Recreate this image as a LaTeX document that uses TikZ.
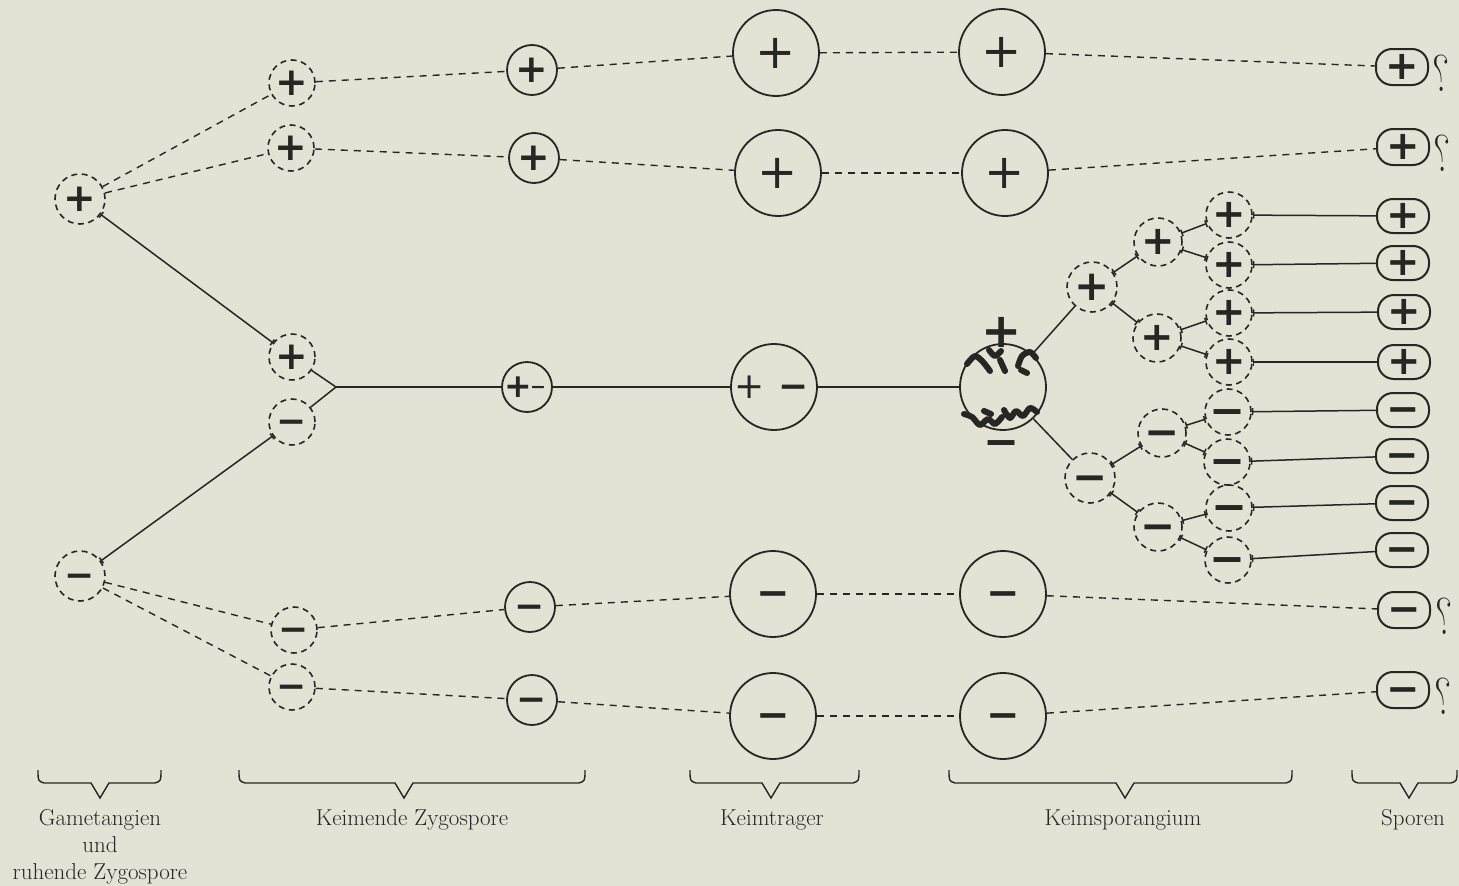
\documentclass[tikz,border=0pt]{standalone}
\usepackage{fontspec}
\usepackage{graphicx}
\usetikzlibrary{arrows.meta}
\newfontfamily\sgnfont{DejaVu Sans}
\definecolor{paper}{RGB}{228,225,213}
\definecolor{ink}{RGB}{38,38,36}
\newcommand\sgb[1]{\sgnfont\bfseries\fontsize{#1}{#1}\selectfont}
\newcommand\sgr[1]{\sgnfont\fontsize{#1}{#1}\selectfont}
\newcommand\psign{\raisebox{-0.36em}{+}}
\newcommand\msign{\raisebox{-0.32em}[0.1em][0.1em]{−}}
\newcommand\qmark{\scalebox{-0.75}[1]{?}}
\begin{document}
\begin{tikzpicture}[x=1pt,y=-1pt,
  every node/.style={text=ink},
  dc/.style={circle,draw=ink,line width=1.6pt,dash pattern=on 6pt off 4.5pt,minimum size=46pt,inner sep=0pt},
  sc/.style={circle,draw=ink,line width=1.8pt,minimum size=50pt,inner sep=0pt},
  bc/.style={circle,draw=ink,line width=1.8pt,minimum size=86pt,inner sep=0pt},
  ov/.style={rectangle,rounded corners=16pt,draw=ink,line width=2pt,minimum width=52pt,minimum height=34pt,inner sep=0pt},
  sgn/.style={inner sep=0pt},
  conn/.style={draw=ink,line width=1.5pt},
  tconn/.style={draw=ink,line width=1.5pt,{Bar[width=7pt]}-{Bar[width=7pt]}},
  dconn/.style={draw=ink,line width=1.4pt,dash pattern=on 7pt off 6pt},
  brace/.style={draw=ink,line width=1.4pt},
  chrom/.style={draw=ink,line width=6pt,line cap=round,line join=round},
  lbl/.style={font=\fontsize{23}{27}\selectfont,align=center,inner sep=0pt},
  qmk/.style={font=\fontsize{52}{52}\selectfont,inner sep=0pt}
]
\fill[paper] (0,0) rectangle (1459,886);
\useasboundingbox (0,0) rectangle (1459,886);

% column 1
\node[dc,minimum size=50pt,font=\sgb{39}] (c1p) at (80,199) {\psign};
\node[dc,minimum size=50pt,font=\sgb{36}] (c1m) at (80,576) {\msign};
% column 2
\node[dc,font=\sgb{39}] (c2a) at (292,83) {\psign};
\node[dc,font=\sgb{39}] (c2b) at (291,148) {\psign};
\node[dc,font=\sgb{39}] (c2p) at (292,357) {\psign};
\node[dc,font=\sgb{36}] (c2m) at (292,422) {\msign};
\node[dc,font=\sgb{36}] (c2c) at (294,630) {\msign};
\node[dc,font=\sgb{36}] (c2d) at (292,687) {\msign};
\coordinate (j) at (336,387);
% column 3
\node[sc,font=\sgb{39}] (c3a) at (532,70) {\psign};
\node[sc,font=\sgb{39}] (c3b) at (534,158) {\psign};
\node[sc] (c3m) at (527,387) {};
\node[sgn,font=\sgb{33}] (c3mp) at (518,387) {\psign};
\node[sgn,font=\sgb{19}] (c3mm) at (538,387) {\msign};
\node[sc,font=\sgb{36}] (c3c) at (530,607) {\msign};
\node[sc,font=\sgb{36}] (c3d) at (532,700) {\msign};
% column 4
\node[bc,font=\sgr{48}] (c4a) at (776,53) {\psign};
\node[bc,font=\sgr{48}] (c4b) at (778,173) {\psign};
\node[bc] (c4m) at (774,387) {};
\node[sgn,font=\sgr{36}] (c4mp) at (750,387) {\psign};
\node[sgn,font=\sgb{36}] (c4mm) at (794,387) {\msign};
\node[bc,font=\sgb{40}] (c4c) at (773,594) {\msign};
\node[bc,font=\sgb{40}] (c4d) at (773,716) {\msign};
% column 5
\node[bc,font=\sgr{48}] (c5a) at (1002,52) {\psign};
\node[bc,font=\sgr{48}] (c5b) at (1005,173) {\psign};
\node[bc,font=\sgb{40}] (c5c) at (1003,594) {\msign};
\node[bc,font=\sgb{40}] (c5d) at (1003,716) {\msign};
\node[bc] (spor) at (1003,387) {};
\node[sgn,font=\sgb{48}] (sporp) at (1002,332) {\psign};
\node[sgn,font=\sgb{43}] (sporm) at (1002,443) {\msign};
% chromosomes
\draw[chrom] plot[smooth] coordinates {(967,364) (975,356) (983,362) (990,371)};
\draw[chrom] plot[smooth] coordinates {(989,350) (995,356) (1001,351)};
\draw[chrom] (1000,360) -- (1005,371);
\draw[chrom] plot[smooth] coordinates {(1018,366) (1022,356) (1030,352) (1036,358)};
\draw[chrom] (1021,370) -- (1027,373);
\draw[chrom] plot[smooth] coordinates {(964,414) (972,417) (980,425) (988,419) (995,424) (1002,417)};
\draw[chrom] plot[smooth] coordinates {(1004,410) (1010,418) (1016,411) (1023,416) (1030,408) (1037,412)};
\draw[chrom] (984,411) -- (991,414);
% tree
\node[dc,minimum size=50pt,font=\sgb{42}] (t1p) at (1092,287) {\psign};
\node[dc,minimum size=50pt,font=\sgb{42}] (t1m) at (1090,478) {\msign};
\node[dc,minimum size=48pt,font=\sgb{40}] (t2a) at (1158,242) {\psign};
\node[dc,minimum size=48pt,font=\sgb{40}] (t2b) at (1157,338) {\psign};
\node[dc,minimum size=48pt,font=\sgb{42}] (t2c) at (1162,433) {\msign};
\node[dc,minimum size=48pt,font=\sgb{42}] (t2d) at (1158,527) {\msign};
\node[dc,font=\sgb{40}] (t3a) at (1229,215) {\psign};
\node[dc,font=\sgb{40}] (t3b) at (1229,265) {\psign};
\node[dc,font=\sgb{40}] (t3c) at (1229,313) {\psign};
\node[dc,font=\sgb{40}] (t3d) at (1229,362) {\psign};
\node[dc,font=\sgb{43}] (t3e) at (1228,412) {\msign};
\node[dc,font=\sgb{43}] (t3f) at (1227,462) {\msign};
\node[dc,font=\sgb{43}] (t3g) at (1229,508) {\msign};
\node[dc,font=\sgb{43}] (t3h) at (1228,560) {\msign};
% spores
\node[ov,font=\sgb{40}] (o1) at (1403,216) {\psign};
\node[ov,font=\sgb{40}] (o2) at (1403,263) {\psign};
\node[ov,font=\sgb{40}] (o3) at (1404,312) {\psign};
\node[ov,font=\sgb{40}] (o4) at (1404,362) {\psign};
\node[ov,font=\sgb{40}] (o5) at (1403,410) {\msign};
\node[ov,font=\sgb{40}] (o6) at (1402,456) {\msign};
\node[ov,font=\sgb{40}] (o7) at (1402,503) {\msign};
\node[ov,font=\sgb{40}] (o8) at (1402,550) {\msign};
\node[ov,minimum height=36pt,font=\sgb{40}] (s1) at (1402,67) {\psign};
\node[ov,minimum height=36pt,font=\sgb{40}] (s2) at (1403,147) {\psign};
\node[ov,minimum height=36pt,font=\sgb{40}] (s3) at (1404,610) {\msign};
\node[ov,minimum height=36pt,font=\sgb{40}] (s4) at (1403,690) {\msign};
\node[qmk] (q1) at (1441,73) {\qmark};
\node[qmk] (q2) at (1442,153) {\qmark};
\node[qmk] (q3) at (1444,616) {\qmark};
\node[qmk] (q4) at (1443,696) {\qmark};

% solid connectors
\draw[tconn] (c1p) -- (c2p);
\draw[tconn] (c1m) -- (c2m);
\draw[conn] (c2p) -- (j) -- (c2m);
\draw[conn] (j) -- (c3m);
\draw[conn] (c3m) -- (c4m);
\draw[conn] (c4m) -- (spor);
\draw[conn] (spor) -- (t1p);
\draw[conn] (spor) -- (t1m);
\draw[tconn] (t1p) -- (t2a);
\draw[tconn] (t1p) -- (t2b);
\draw[tconn] (t1m) -- (t2c);
\draw[tconn] (t1m) -- (t2d);
\draw[tconn] (t2a) -- (t3a);
\draw[tconn] (t2a) -- (t3b);
\draw[tconn] (t2b) -- (t3c);
\draw[tconn] (t2b) -- (t3d);
\draw[tconn] (t2c) -- (t3e);
\draw[tconn] (t2c) -- (t3f);
\draw[tconn] (t2d) -- (t3g);
\draw[tconn] (t2d) -- (t3h);
\foreach \a/\b in {t3a/o1,t3b/o2,t3c/o3,t3d/o4,t3e/o5,t3f/o6,t3g/o7,t3h/o8}
  \draw[conn,{Bar[width=7pt]}-] (\a) -- (\b);

% dashed connectors
\draw[dconn] (c1p) -- (c2a);
\draw[dconn] (c1p) -- (c2b);
\draw[dconn] (c1m) -- (c2c);
\draw[dconn] (c1m) -- (c2d);
\foreach \a/\b in {c2a/c3a,c3a/c4a,c4a/c5a,c5a/s1,c2b/c3b,c3b/c4b,c4b/c5b,c5b/s2,c2c/c3c,c3c/c4c,c4c/c5c,c5c/s3,c2d/c3d,c3d/c4d,c4d/c5d,c5d/s4}
  \draw[dconn] (\a) -- (\b);

% braces
\foreach \l/\r/\t in {38/161/100, 239/585/404, 690/859/771, 949/1292/1125, 1352/1457/1409}
  \draw[brace] (\l,770) .. controls (\l,781) .. (\l+6,783) -- (\t-9,783) -- (\t,798) -- (\t+9,783) -- (\r-6,783) .. controls (\r,781) .. (\r,770);

% labels
\node[lbl] (l1) at (100,847) {Gametangien\\und\\ruhende Zygospore};
\node[lbl] (l2) at (412,820) {Keimende Zygospore};
\node[lbl] (l3) at (772,820) {Keimtrager};
\node[lbl] (l4) at (1123,820) {Keimsporangium};
\node[lbl] (l5) at (1413,820) {Sporen};
\end{tikzpicture}
\end{document}
